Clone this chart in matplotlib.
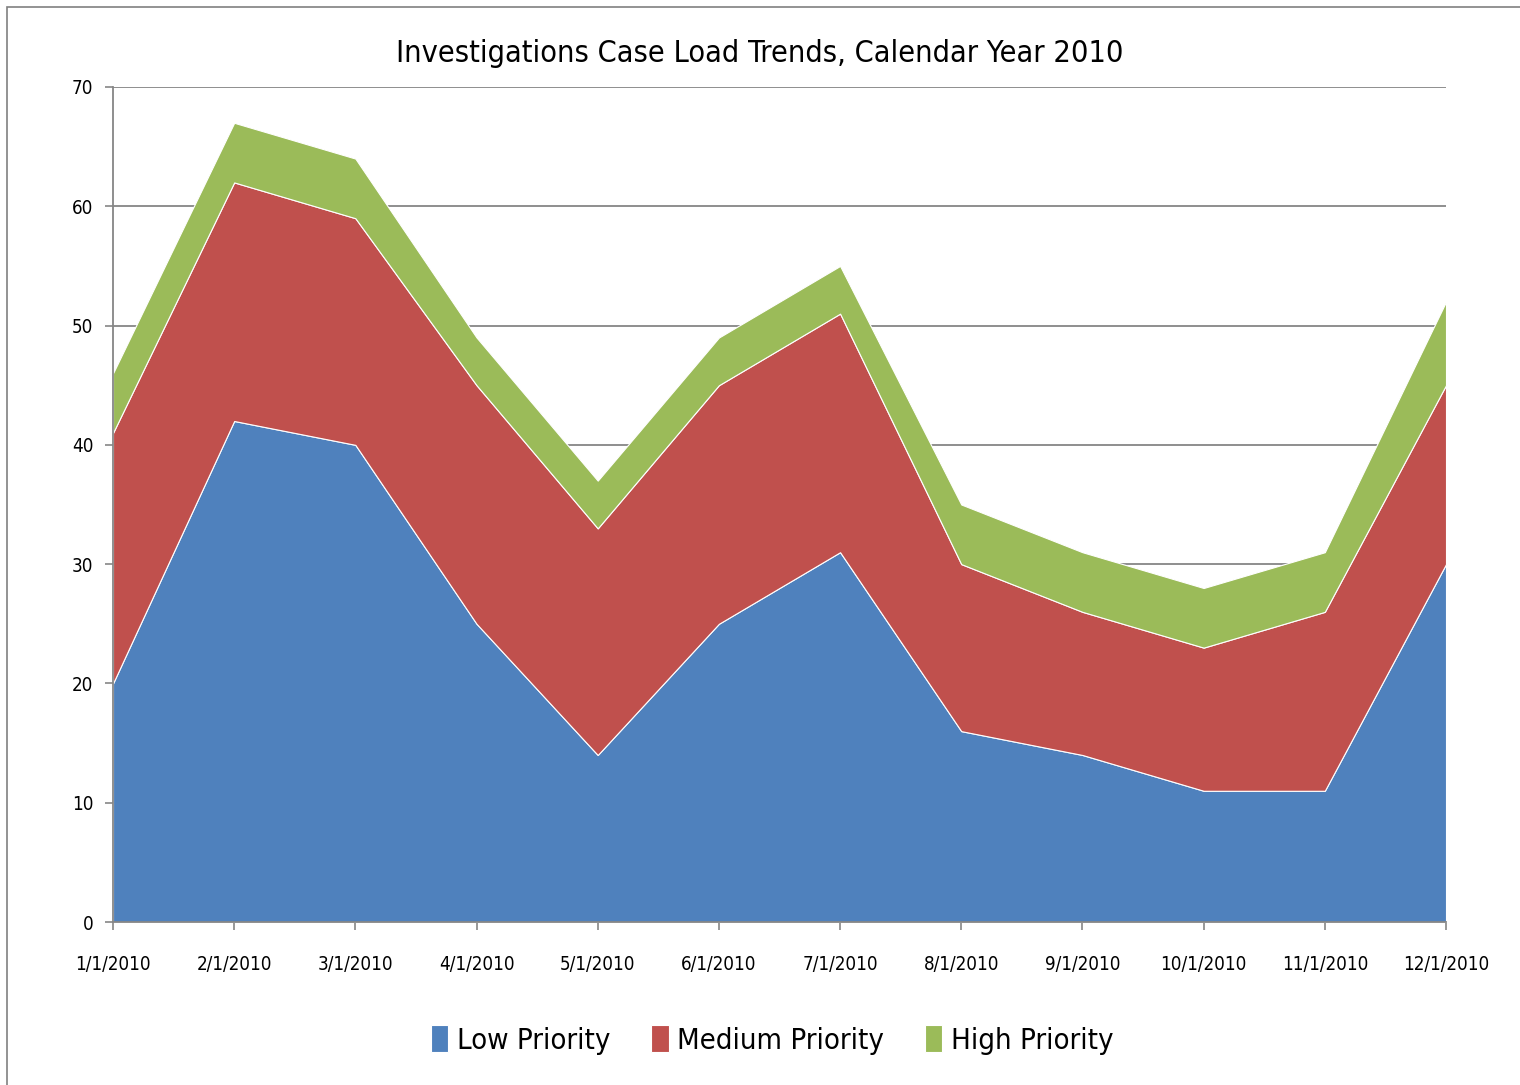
import matplotlib
matplotlib.use("Agg")
import matplotlib.pyplot as plt
from matplotlib.patches import Rectangle

dates = ["1/1/2010", "2/1/2010", "3/1/2010", "4/1/2010", "5/1/2010", "6/1/2010",
         "7/1/2010", "8/1/2010", "9/1/2010", "10/1/2010", "11/1/2010", "12/1/2010"]
low = [20, 42, 40, 25, 14, 25, 31, 16, 14, 11, 11, 30]
medium = [21, 20, 19, 20, 19, 20, 20, 14, 12, 12, 15, 15]
high = [5, 5, 5, 4, 4, 4, 4, 5, 5, 5, 5, 7]
series_names = ["Low Priority", "Medium Priority", "High Priority"]
colors = ["#4F81BD", "#C0504D", "#9BBB59"]

# narrow font to get close to the original Gill Sans look
plt.rcParams['font.family'] = ['DejaVu Sans']
plt.rcParams['font.stretch'] = 'condensed'

fig = plt.figure(figsize=(15.2, 10.85), dpi=100)
ax = fig.add_axes([113 / 1520, 1 - 922 / 1085, (1446 - 113) / 1520, (922 - 87) / 1085])

x = list(range(len(dates)))
ax.stackplot(x, low, medium, high, colors=colors, labels=series_names,
             edgecolor="white", linewidth=0.8)

ax.set_xlim(0, len(dates) - 1)
ax.set_ylim(0, 70)
ax.set_yticks(range(0, 71, 10))
ax.set_xticks(x)
ax.set_xticklabels(dates)
ax.yaxis.grid(True, color="#868686", linewidth=1.3)
ax.set_axisbelow(True)
for s in ["top", "right"]:
    ax.spines[s].set_visible(False)
for s in ["left", "bottom"]:
    ax.spines[s].set_color("#868686")
    ax.spines[s].set_linewidth(1.3)
ax.tick_params(axis="both", colors="#868686", length=6, width=1.2, labelsize=13.5, labelcolor="black")
ax.tick_params(axis="x", pad=18)
ax.tick_params(axis="y", pad=8)

fig.suptitle("Investigations Case Load Trends, Calendar Year 2010", fontsize=22,
             y=1 - 54 / 1085, va="center")

leg = fig.legend(loc="center", bbox_to_anchor=(0.508, 1 - 1040 / 1085), ncol=3, frameon=False,
                 fontsize=21, handlelength=0.6, handleheight=1.0, handletextpad=0.3,
                 columnspacing=1.4)

fig.patches.append(Rectangle((7 / 1520, -0.01), 1.5, 1 - 7 / 1085 + 0.01, transform=fig.transFigure,
                             fill=False, edgecolor="#808080", linewidth=1.2))

fig.savefig("out.png", dpi=100)
